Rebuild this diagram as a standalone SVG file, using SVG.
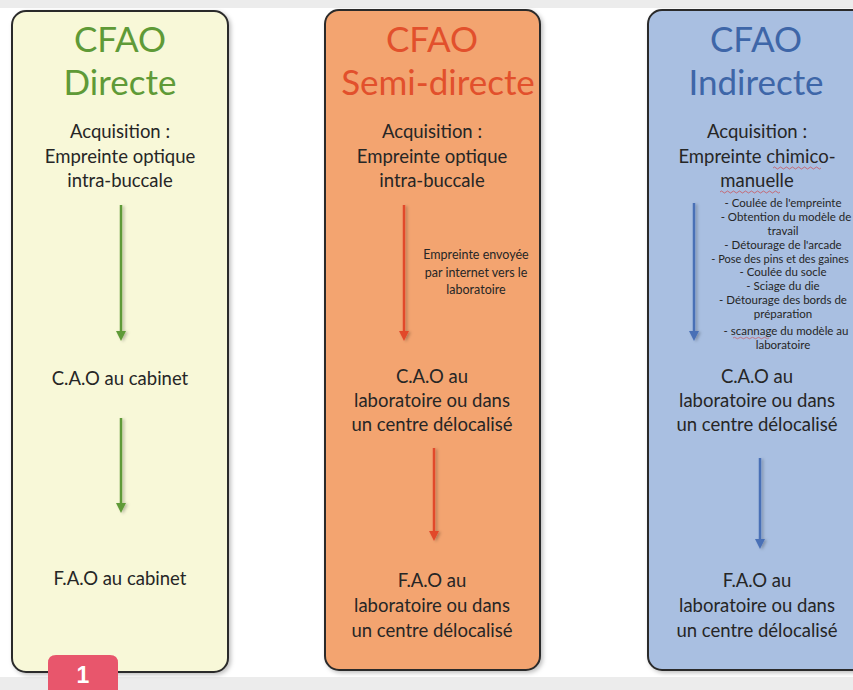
<svg xmlns="http://www.w3.org/2000/svg" width="853" height="690" viewBox="0 0 853 690">
<style>
.t{font-family:Lato,"Open Sans","Liberation Sans",sans-serif;fill:#262626;text-anchor:middle}
.b{font-size:18.5px}
.s{font-size:12.5px}
.xs{font-size:11.5px}
.h{font-size:35px}
.panel{stroke:#2b2b2b;stroke-width:2}
.arr{stroke-width:2.5;fill:none}
</style>
<defs>
<filter id="sh" x="-10%" y="-10%" width="120%" height="120%">
<feDropShadow dx="2" dy="2" stdDeviation="2" flood-color="#000" flood-opacity="0.25"/>
</filter>
<filter id="ash" x="-200%" y="-10%" width="500%" height="120%">
<feDropShadow dx="2" dy="1" stdDeviation="1.5" flood-color="#000" flood-opacity="0.25"/>
</filter>
</defs>
<rect x="0" y="0" width="853" height="690" fill="#ffffff"/>
<rect x="0" y="0" width="853" height="8" fill="#ececec"/>
<rect x="0" y="677" width="853" height="13" fill="#ececec"/>

<g id="directe">
<rect class="panel" x="12" y="11" width="216" height="661" rx="14" fill="#f8f8d8" filter="url(#sh)"/>
<text class="t h" x="120" y="52" style="fill:#5f9a37">CFAO</text>
<text class="t h" x="120" y="95" style="fill:#5f9a37">Directe</text>
<text class="t b" x="120" y="138">Acquisition :</text>
<text class="t b" x="120" y="163">Empreinte optique</text>
<text class="t b" x="120" y="187">intra-buccale</text>
<text class="t b" x="120" y="385">C.A.O au cabinet</text>
<text class="t b" x="120" y="585">F.A.O au cabinet</text>
</g>

<g id="semi-directe">
<rect class="panel" x="325" y="10" width="215" height="660" rx="14" fill="#f3a46f" filter="url(#sh)"/>
<text class="t h" x="432" y="52" style="fill:#e2502c">CFAO</text>
<text class="t h" x="438" y="95" style="fill:#e2502c">Semi-directe</text>
<text class="t b" x="432" y="138">Acquisition :</text>
<text class="t b" x="432" y="163">Empreinte optique</text>
<text class="t b" x="432" y="187">intra-buccale</text>
<text class="t s" x="476" y="259">Empreinte envoyée</text>
<text class="t s" x="476" y="277">par internet vers le</text>
<text class="t s" x="476" y="294">laboratoire</text>
<text class="t b" x="432" y="383">C.A.O au</text>
<text class="t b" x="432" y="407">laboratoire ou dans</text>
<text class="t b" x="432" y="431">un centre délocalisé</text>
<text class="t b" x="432" y="587">F.A.O au</text>
<text class="t b" x="432" y="612">laboratoire ou dans</text>
<text class="t b" x="432" y="637">un centre délocalisé</text>
</g>

<g id="indirecte">
<rect class="panel" x="648" y="10" width="220" height="660" rx="14" fill="#a9bfe1" filter="url(#sh)"/>
<text class="t h" x="756" y="52" style="fill:#3e66a8">CFAO</text>
<text class="t h" x="756" y="95" style="fill:#3e66a8">Indirecte</text>
<text class="t b" x="757" y="138">Acquisition :</text>
<text class="t b" x="757" y="163">Empreinte chimico-</text>
<text class="t b" x="757" y="187">manuelle</text>
<path d="M773,168 q1.5,-2 3,0 t3,0 t3,0 t3,0 t3,0 t3,0 t3,0 t3,0 t3,0 t3,0 t3,0 t3,0 t3,0 t3,0 t3,0 t3,0 M720,192 q1.5,-2 3,0 t3,0 t3,0 t3,0 t3,0 t3,0 t3,0 t3,0 t3,0 t3,0 t3,0 t3,0 t3,0 t3,0 t3,0 t3,0 t3,0 t3,0 t3,0 t3,0" fill="none" stroke="#d23b3b" stroke-width="0.8" opacity="0.8"/>
<text class="t xs" x="783" y="207">- Coulée de l'empreinte</text>
<text class="t xs" x="786" y="221">- Obtention du modèle de</text>
<text class="t xs" x="783" y="235">travail</text>
<text class="t xs" x="783" y="249">- Détourage de l'arcade</text>
<text class="t xs" x="780" y="263" style="font-size:11px">- Pose des pins et des gaines</text>
<text class="t xs" x="783" y="276">- Coulée du socle</text>
<text class="t xs" x="783" y="290">- Sciage du die</text>
<text class="t xs" x="783" y="304">- Détourage des bords de</text>
<text class="t xs" x="783" y="318">préparation</text>
<text class="t xs" x="786" y="335">- scannage du modèle au</text>
<text class="t xs" x="783" y="349">laboratoire</text>
<path d="M733,338 q1.5,-1.5 3,0 t3,0 t3,0 t3,0 t3,0 t3,0 t3,0 t3,0 t3,0 t3,0 t3,0 t3,0" fill="none" stroke="#d23b3b" stroke-width="0.7" opacity="0.8"/>
<text class="t b" x="757" y="383">C.A.O au</text>
<text class="t b" x="757" y="407">laboratoire ou dans</text>
<text class="t b" x="757" y="431">un centre délocalisé</text>
<text class="t b" x="757" y="587">F.A.O au</text>
<text class="t b" x="757" y="612">laboratoire ou dans</text>
<text class="t b" x="757" y="637">un centre délocalisé</text>
</g>

<g id="connectors" filter="url(#ash)">
<line class="arr" x1="121" y1="205" x2="121" y2="333" stroke="#5f9a37"/>
<path d="M116,331 L121,341 L126,331 Z" fill="#5f9a37"/>
<line class="arr" x1="121" y1="418" x2="121" y2="505" stroke="#5f9a37"/>
<path d="M116,503 L121,513 L126,503 Z" fill="#5f9a37"/>
<line class="arr" x1="404" y1="205" x2="404" y2="333" stroke="#e2492c"/>
<path d="M399,331 L404,341 L409,331 Z" fill="#e2492c"/>
<line class="arr" x1="434" y1="448" x2="434" y2="533" stroke="#e2492c"/>
<path d="M429,531 L434,541 L439,531 Z" fill="#e2492c"/>
<line class="arr" x1="694" y1="203" x2="694" y2="333" stroke="#4a70b6"/>
<path d="M689,331 L694,341 L699,331 Z" fill="#4a70b6"/>
<line class="arr" x1="760" y1="458" x2="760" y2="541" stroke="#4a70b6"/>
<path d="M755,539 L760,549 L765,539 Z" fill="#4a70b6"/>
</g>

<g id="badge">
<path d="M48,690 L48,663 Q48,655 56,655 L110,655 Q118,655 118,663 L118,690 Z" fill="#e8566c"/>
<text x="83" y="683" style="font-family:'Liberation Sans',Arial,sans-serif;font-weight:bold;font-size:23px;fill:#ffffff;text-anchor:middle">1</text>
</g>
</svg>
